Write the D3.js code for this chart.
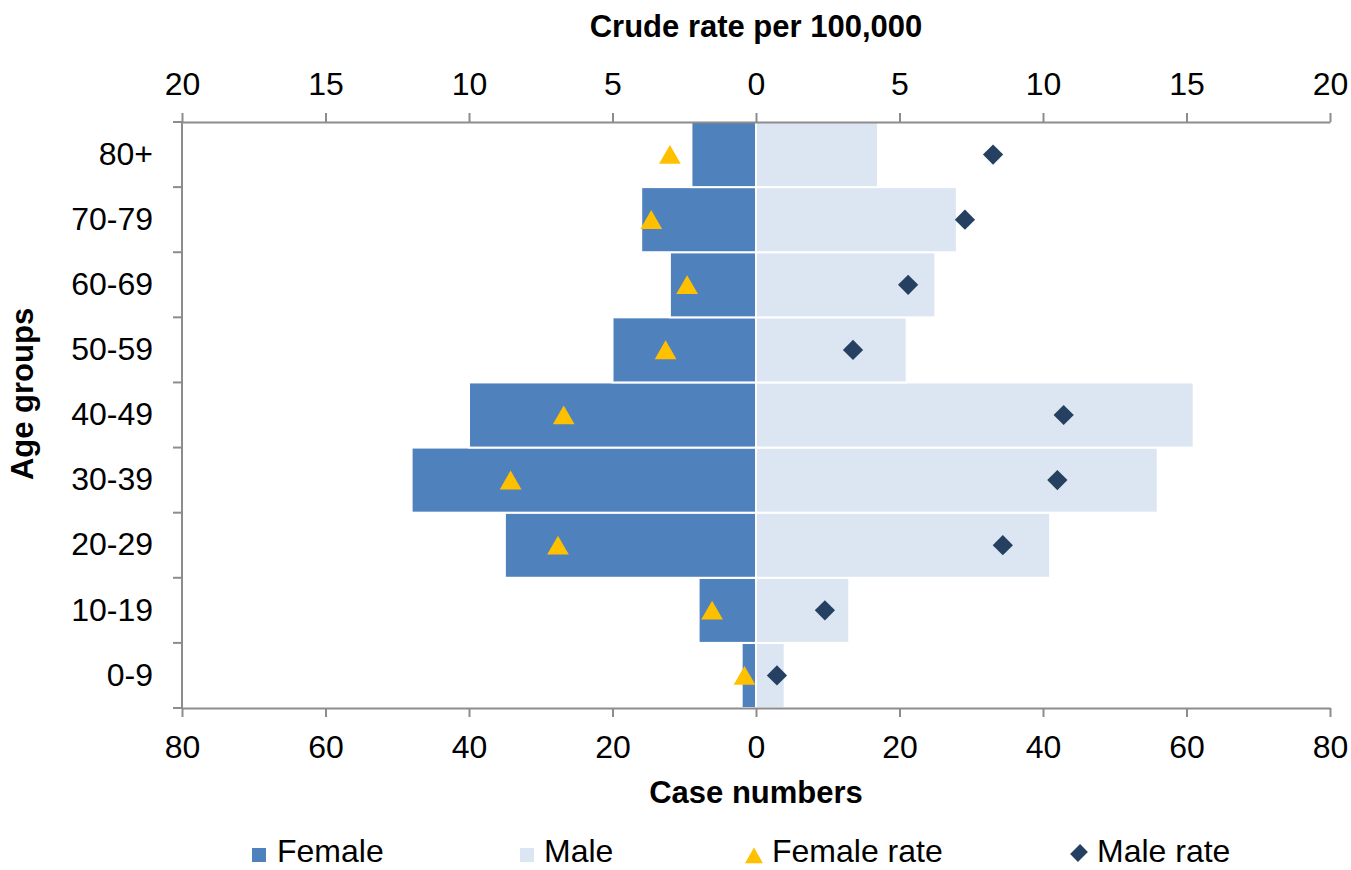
<!DOCTYPE html>
<html>
<head>
<meta charset="utf-8">
<script src="https://cdn.jsdelivr.net/npm/d3@7"></script>
<style>
  body { margin: 0; background: #fff; }
  text { font-family: "Liberation Sans", Arial, sans-serif; fill: #000; }
  .axis path, .axis line { stroke: #8c8c8c; stroke-width: 2; }
  .axis text { font-size: 32px; }
  .title { font-size: 31px; font-weight: bold; }
</style>
</head>
<body>
<svg id="chart" width="1351" height="870"></svg>
<script>
var ageGroups = ["0-9", "10-19", "20-29", "30-39", "40-49", "50-59", "60-69", "70-79", "80+"];
var femaleCases = [2, 8, 35, 48, 40, 20, 12, 16, 9];
var maleCases = [4, 13, 41, 56, 61, 21, 25, 28, 17];
var femaleRate = [0.4, 1.53, 6.9, 8.55, 6.7, 3.15, 2.4, 3.65, 3.0];
var maleRate = [0.73, 2.4, 8.6, 10.5, 10.72, 3.38, 5.3, 7.28, 8.26];
var caseTicks = [-80, -60, -40, -20, 0, 20, 40, 60, 80];
var rateTicks = [-20, -15, -10, -5, 0, 5, 10, 15, 20];

var femaleColor = "#4f81bd", maleColor = "#dce6f2";
var femaleRateColor = "#ffc000", maleRateColor = "#254061";

var svg = d3.select("#chart");
var plotLeft = 182, plotRight = 1330, plotTop = 122, plotBottom = 708;

var xCases = d3.scaleLinear().domain([-80, 80]).range([plotLeft, plotRight]);
var xRate = d3.scaleLinear().domain([-20, 20]).range([plotLeft, plotRight]);
var y = d3.scaleBand().domain(ageGroups).range([plotBottom, plotTop]).padding(0);

var rows = ageGroups.map(function (g, i) {
    return { group: g, female: femaleCases[i], male: maleCases[i], fRate: femaleRate[i], mRate: maleRate[i] };
});

// bars
svg.append("g").selectAll("rect")
    .data(rows).enter().append("rect")
    .attr("x", function (d) { return xCases(-d.female); })
    .attr("y", function (d) { return y(d.group); })
    .attr("width", function (d) { return xCases(0) - xCases(-d.female); })
    .attr("height", y.bandwidth())
    .attr("fill", femaleColor)
    .attr("stroke", "#fff").attr("stroke-width", 2);

svg.append("g").selectAll("rect")
    .data(rows).enter().append("rect")
    .attr("x", xCases(0))
    .attr("y", function (d) { return y(d.group); })
    .attr("width", function (d) { return xCases(d.male) - xCases(0); })
    .attr("height", y.bandwidth())
    .attr("fill", maleColor)
    .attr("stroke", "#fff").attr("stroke-width", 2);

// axes
var absFmt = function (d) { return Math.abs(d); };

svg.append("g").attr("class", "axis")
    .attr("transform", "translate(0," + plotTop + ")")
    .call(d3.axisTop(xRate).tickValues(rateTicks).tickFormat(absFmt).tickSize(9).tickSizeOuter(0).tickPadding(18));

svg.append("g").attr("class", "axis")
    .attr("transform", "translate(0," + plotBottom + ")")
    .call(d3.axisBottom(xCases).tickValues(caseTicks).tickFormat(absFmt).tickSize(9).tickSizeOuter(0).tickPadding(18));

var yAxis = svg.append("g").attr("class", "axis")
    .attr("transform", "translate(" + plotLeft + ",0)")
    .call(d3.axisLeft(y).tickSize(0).tickPadding(29));
yAxis.select(".domain").attr("d", "M0," + plotTop + "V" + plotBottom);

// boundary ticks on the age axis
var bounds = ageGroups.map(function (g) { return y(g); }).concat([y(ageGroups[0]) + y.bandwidth()]);
svg.append("g").selectAll("line")
    .data(bounds).enter().append("line")
    .attr("x1", plotLeft - 9).attr("x2", plotLeft)
    .attr("y1", function (d) { return d; }).attr("y2", function (d) { return d; })
    .attr("stroke", "#8c8c8c").attr("stroke-width", 2);

// rate markers
var tri = d3.symbol().type(d3.symbolTriangle).size(205);
var dia = d3.symbol().type(d3.symbolSquare).size(205);

svg.append("g").selectAll("path")
    .data(rows).enter().append("path")
    .attr("d", tri)
    .attr("fill", femaleRateColor)
    .attr("transform", function (d) {
        return "translate(" + xRate(-d.fRate) + "," + (y(d.group) + y.bandwidth() / 2 + 3) + ")";
    });

svg.append("g").selectAll("path")
    .data(rows).enter().append("path")
    .attr("d", dia)
    .attr("fill", maleRateColor)
    .attr("transform", function (d) {
        return "translate(" + xRate(d.mRate) + "," + (y(d.group) + y.bandwidth() / 2) + ") rotate(45)";
    });

// titles
svg.append("text").attr("class", "title")
    .attr("x", xRate(0)).attr("y", 37).attr("text-anchor", "middle")
    .text("Crude rate per 100,000");

svg.append("text").attr("class", "title")
    .attr("x", xCases(0)).attr("y", 803).attr("text-anchor", "middle")
    .text("Case numbers");

svg.append("text").attr("class", "title")
    .attr("transform", "translate(33,394) rotate(-90)")
    .attr("text-anchor", "middle")
    .text("Age groups");

// legend
var legendItems = [
    { label: "Female", kind: "rect", color: femaleColor, x: 252, tx: 277 },
    { label: "Male", kind: "rect", color: maleColor, x: 520, tx: 544 },
    { label: "Female rate", kind: "tri", color: femaleRateColor, x: 745, tx: 772 },
    { label: "Male rate", kind: "dia", color: maleRateColor, x: 1070, tx: 1097 }
];
var legY = 854;
var leg = svg.append("g").selectAll("g").data(legendItems).enter().append("g");

leg.each(function (d) {
    var g = d3.select(this);
    if (d.kind == "rect") {
        g.append("rect").attr("x", d.x).attr("y", legY - 6).attr("width", 14).attr("height", 14).attr("fill", d.color);
    } else if (d.kind == "tri") {
        g.append("path").attr("d", d3.symbol().type(d3.symbolTriangle).size(140))
            .attr("transform", "translate(" + (d.x + 9) + "," + (legY + 4) + ")").attr("fill", d.color);
    } else {
        g.append("path").attr("d", d3.symbol().type(d3.symbolSquare).size(150))
            .attr("transform", "translate(" + (d.x + 9) + "," + (legY - 1) + ") rotate(45) scale(0.9,1.15)").attr("fill", d.color);
    }
    g.append("text").attr("x", d.tx).attr("y", legY + 8).style("font-size", "32px").text(d.label);
});
</script>
</body>
</html>
